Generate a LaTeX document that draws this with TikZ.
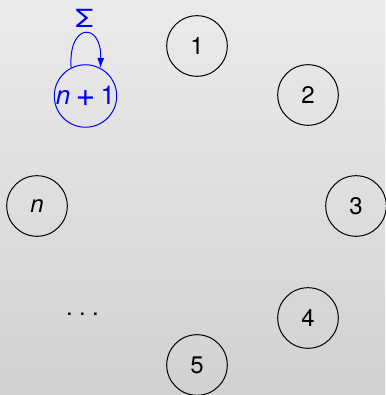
\documentclass[tikz,border=0pt]{standalone}
\usepackage{fontspec}
\setmainfont{TeX Gyre Heros}
\usetikzlibrary{arrows.meta}
\tikzset{
  state/.style={circle, draw=black, line width=0.5pt, minimum size=30.3pt, inner sep=0pt, font=\fontsize{12}{14}\selectfont},
  bluestate/.style={state, draw=blue, text=blue, font=\fontsize{13}{15}\selectfont},
  loopline/.style={draw=blue, line width=0.5pt, -{Latex[length=5pt,width=3.5pt]}},
}
\begin{document}
\begin{tikzpicture}[x=0.5pt,y=0.5pt]
\shade[top color=black!8, bottom color=black!18] (0,0) rectangle (385,395);
\useasboundingbox (0,0) rectangle (385,395);
\node[state] (s1) at (197,349) {1};
\node[state] (s2) at (308,300) {2};
\node[state] (s3) at (356,189) {3};
\node[state] (s4) at (308,77) {4};
\node[state] (s5) at (197,30) {5};
\node[font=\fontsize{12}{14}\selectfont] (dots) at (82.5,81) {.\hspace{3.2pt}.\hspace{3.2pt}.};
\node[state] (sn) at (37,189) {\textit{n}};
\node[bluestate] (sn1) at (85.5,299) {\textit{n}\hspace{2.6pt}\raisebox{-0.08em}{\scalebox{1.3}{+}}\hspace{2.6pt}1};
\coordinate (lc1) at (68,373);
\coordinate (lc2) at (102,373);
\draw[loopline] (sn1.117) .. controls (lc1) and (lc2) .. (sn1.62);
\node[text=blue, font=\fontsize{12.5}{14}\selectfont] (sigma) at (84.5,376.5) {\scalebox{1.2}[1]{Σ}};
\end{tikzpicture}
\end{document}
